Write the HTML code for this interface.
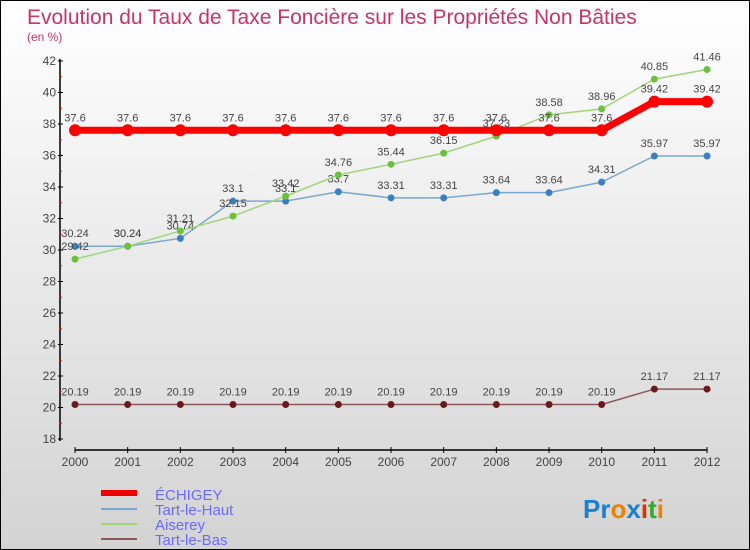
<!DOCTYPE html>
<html><head><meta charset="utf-8"><style>
body{margin:0}
#c{width:748px;height:548px;border:1px solid #000;background:linear-gradient(#fff,#d3d3d3);position:relative;font-family:"Liberation Sans",sans-serif}
</style></head><body>
<div id="c">
<svg id="s" width="748" height="548" style="position:absolute;left:0;top:0">
<text x="26" y="23" font-size="21" fill="#c8336a">Evolution du Taux de Taxe Foncière sur les Propriétés Non Bâties</text>
<text x="26" y="40" font-size="12" fill="#c8336a">(en %)</text>
<g id="axes"></g><g id="series"></g>
<g>
<rect x="100" y="489" width="36" height="6" fill="#e00"/>
<text x="154" y="499" font-size="15" fill="#6a6aff">ÉCHIGEY</text>
<rect x="100" y="507" width="36" height="2" fill="#7aa7d0"/>
<text x="154" y="514" font-size="15" fill="#6a6aff">Tart-le-Haut</text>
<rect x="100" y="522" width="36" height="2" fill="#9fd67a"/>
<text x="154" y="529" font-size="15" fill="#6a6aff">Aiserey</text>
<rect x="100" y="537" width="36" height="2" fill="#8a5a5a"/>
<text x="154" y="544" font-size="15" fill="#6a6aff">Tart-le-Bas</text>
</g>
<text x="582" y="517" font-size="26" font-weight="bold"><tspan fill="#1a7fd0">Pr</tspan><tspan fill="#f08000">o</tspan><tspan fill="#1a7fd0">x</tspan><tspan fill="#e03000">i</tspan><tspan fill="#3a3">t</tspan><tspan fill="#f08000">i</tspan></text>
</svg>
</div>
<script>
const years=[2000,2001,2002,2003,2004,2005,2006,2007,2008,2009,2010,2011,2012];
const yTicks=[18,20,22,24,26,28,30,32,34,36,38,40,42];
const echigey=[37.6,37.6,37.6,37.6,37.6,37.6,37.6,37.6,37.6,37.6,37.6,39.42,39.42];
const tartHaut=[30.24,30.24,30.74,33.1,33.1,33.7,33.31,33.31,33.64,33.64,34.31,35.97,35.97];
const aiserey=[29.42,30.24,31.21,32.15,33.42,34.76,35.44,36.15,37.23,38.58,38.96,40.85,41.46];
const tartBas=[20.19,20.19,20.19,20.19,20.19,20.19,20.19,20.19,20.19,20.19,20.19,21.17,21.17];
const NS='http://www.w3.org/2000/svg';
const X=i=>74+i*52.67, Y=v=>60+(42-v)*15.75;
function mk(t,a,p){const e=document.createElementNS(NS,t);for(const k in a)e.setAttribute(k,a[k]);p.appendChild(e);return e;}
const ax=document.getElementById('axes');
let e=mk('line',{x1:59,y1:58,x2:59,y2:440,stroke:'#000','stroke-width':1.5},ax);


e=mk('line',{x1:74,y1:449,x2:706,y2:449,stroke:'#000','stroke-width':1.5},ax);


const yMax=yTicks[yTicks.length-1];
yTicks.forEach(v=>{mk('line',{x1:57,y1:Y(v),x2:62,y2:Y(v),stroke:'#000'},ax);
if(v<yMax)mk('line',{x1:58,y1:Y(v+1),x2:61,y2:Y(v+1),stroke:'#f00'},ax);
const t=mk('text',{x:55,y:Y(v)+4,'font-size':12,'text-anchor':'end',fill:'#444'},ax);t.textContent=v;

});
years.forEach((y,i)=>{mk('line',{x1:X(i),y1:446,x2:X(i),y2:452,stroke:'#000'},ax);
const t=mk('text',{x:X(i),y:465,'font-size':12,'text-anchor':'middle',fill:'#444'},ax);t.textContent=y;

});
const sg=document.getElementById('series');
function draw(d,col,w,r,pc,name){const g=mk('g',{},sg);


mk('polyline',{points:d.map((v,i)=>X(i)+','+Y(v)).join(' '),fill:'none',stroke:col,'stroke-width':w},g);
d.forEach((v,i)=>{const c=mk('circle',{cx:X(i),cy:Y(v),r:r,fill:pc},g);


const t=mk('text',{x:X(i),y:Y(v)-9,'font-size':11,'text-anchor':'middle',fill:'#444'},g);t.textContent=v;

});}
draw(tartBas,'#8a5a5a',1.5,3.5,'#6a1a1a','tart-le-bas');
draw(tartHaut,'#7aa7d0',1.5,3.5,'#3a80c0','tart-le-haut');
draw(aiserey,'#9fd67a',1.5,3.5,'#6cc040','aiserey');
draw(echigey,'#f00',7,6,'#f00','echigey');
</script>
</body></html>
